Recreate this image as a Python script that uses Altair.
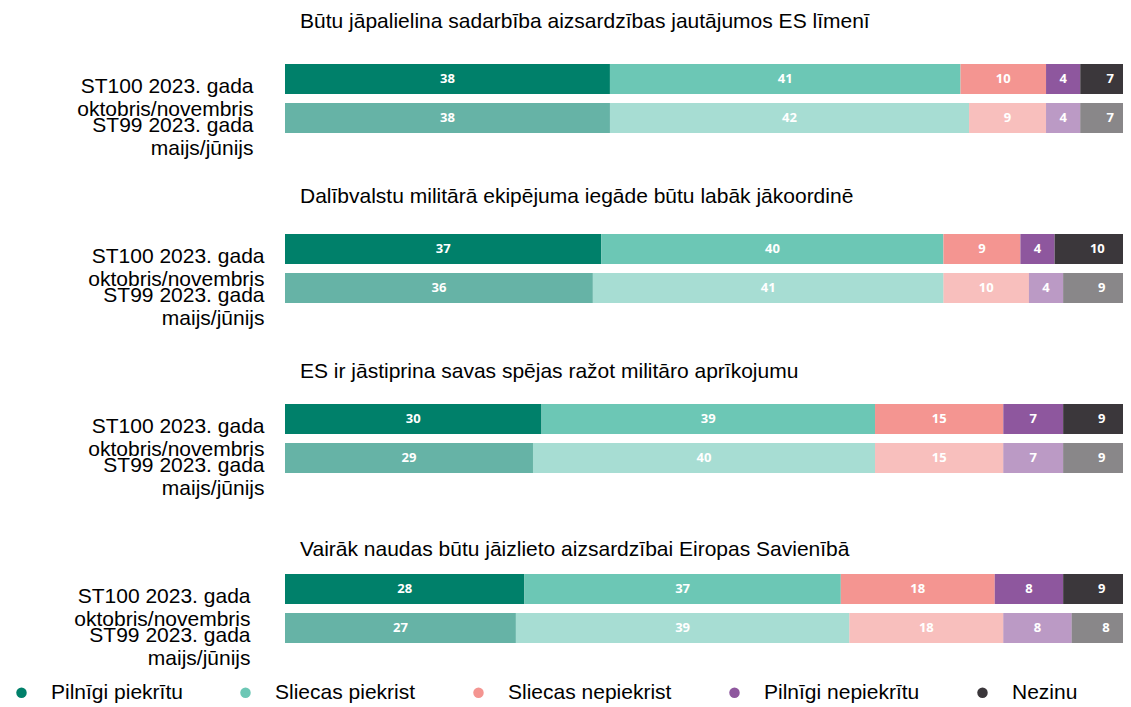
import altair as alt
import pandas as pd

questions = [
    "Būtu jāpalielina sadarbība aizsardzības jautājumos ES līmenī",
    "Dalībvalstu militārā ekipējuma iegāde būtu labāk jākoordinē",
    "ES ir jāstiprina savas spējas ražot militāro aprīkojumu",
    "Vairāk naudas būtu jāizlieto aizsardzībai Eiropas Savienībā",
]
surveys = ["ST100 2023. gada|oktobris/novembris", "ST99 2023. gada|maijs/jūnijs"]
categories = ["Pilnīgi piekrītu", "Sliecas piekrist", "Sliecas nepiekrist",
              "Pilnīgi nepiekrītu", "Nezinu"]
colors = ["#00806A", "#6CC7B5", "#F49591", "#8E579E", "#3B373B"]
st100 = [[38, 41, 10, 4, 7], [37, 40, 9, 4, 10], [30, 39, 15, 7, 9], [28, 37, 18, 8, 9]]
st99 = [[38, 42, 9, 4, 7], [36, 41, 10, 4, 9], [29, 40, 15, 7, 9], [27, 39, 18, 8, 8]]

rows = []
for qi in range(len(questions)):
    for si, vals in enumerate([st100[qi], st99[qi]]):
        for ci, v in enumerate(vals):
            rows.append({"q": qi, "survey": surveys[si], "cat": categories[ci],
                         "order": ci, "value": v})
df = pd.DataFrame(rows)

label_pads = [32, 21, 21, 35]
title_offsets = [32, 27, 22, 14]


def panel(i):
    d = df[df.q == i]
    base = alt.Chart(d).transform_stack(
        stack="value", groupby=["survey"], sort=[alt.SortField("order")], as_=["x0", "x1"]
    ).transform_calculate(mid="(datum.x0 + datum.x1) / 2")
    y = alt.Y(
        "survey:N", sort=surveys,
        scale=alt.Scale(paddingInner=0.23, paddingOuter=0),
        axis=alt.Axis(title=None, domain=False, ticks=False,
                      labelExpr="split(datum.label, '|')",
                      labelFont="Liberation Sans", labelFontSize=21, labelColor="black",
                      labelPadding=label_pads[i], labelLineHeight=23, labelOffset=8,
                      minExtent=277, maxExtent=277),
    )
    xs = alt.Scale(domain=[0, 98], nice=False, zero=True)
    bars = base.mark_bar(clip=True).encode(
        x=alt.X("x0:Q", scale=xs, axis=None),
        x2="x1:Q",
        y=y,
        color=alt.Color(
            "cat:N", scale=alt.Scale(domain=categories, range=colors),
            legend=alt.Legend(title=None, orient="none", legendX=-274, legendY=618,
                              direction="horizontal", symbolType="circle",
                              symbolSize=110, symbolStrokeWidth=0,
                              labelFont="Liberation Sans", labelFontSize=21,
                              labelColor="black", columnPadding=52, labelOffset=19,
                              labelLimit=300),
        ),
        opacity=alt.Opacity("survey:N", scale=alt.Scale(domain=surveys, range=[1, 0.6]),
                            legend=None),
    )
    text = base.mark_text(font="Open Sans", fontWeight="bold", fontSize=13,
                          color="white").encode(
        x=alt.X("mid:Q", scale=xs, axis=None),
        y=y,
        text="value:Q",
    )
    return alt.layer(bars, text).properties(
        width=838, height=69,
        title=alt.TitleParams(questions[i], anchor="start", frame="group", dx=15,
                              fontSize=21, font="Liberation Sans", fontWeight="normal",
                              color="black", offset=title_offsets[i]),
    )


chart = alt.vconcat(*[panel(i) for i in range(4)], spacing=101, bounds="flush").properties(
    padding={"left": 0, "top": 3, "right": 0, "bottom": 0}
).configure_view(stroke=None)

chart.save("out.html", embed_options={"renderer": "svg", "actions": False})
